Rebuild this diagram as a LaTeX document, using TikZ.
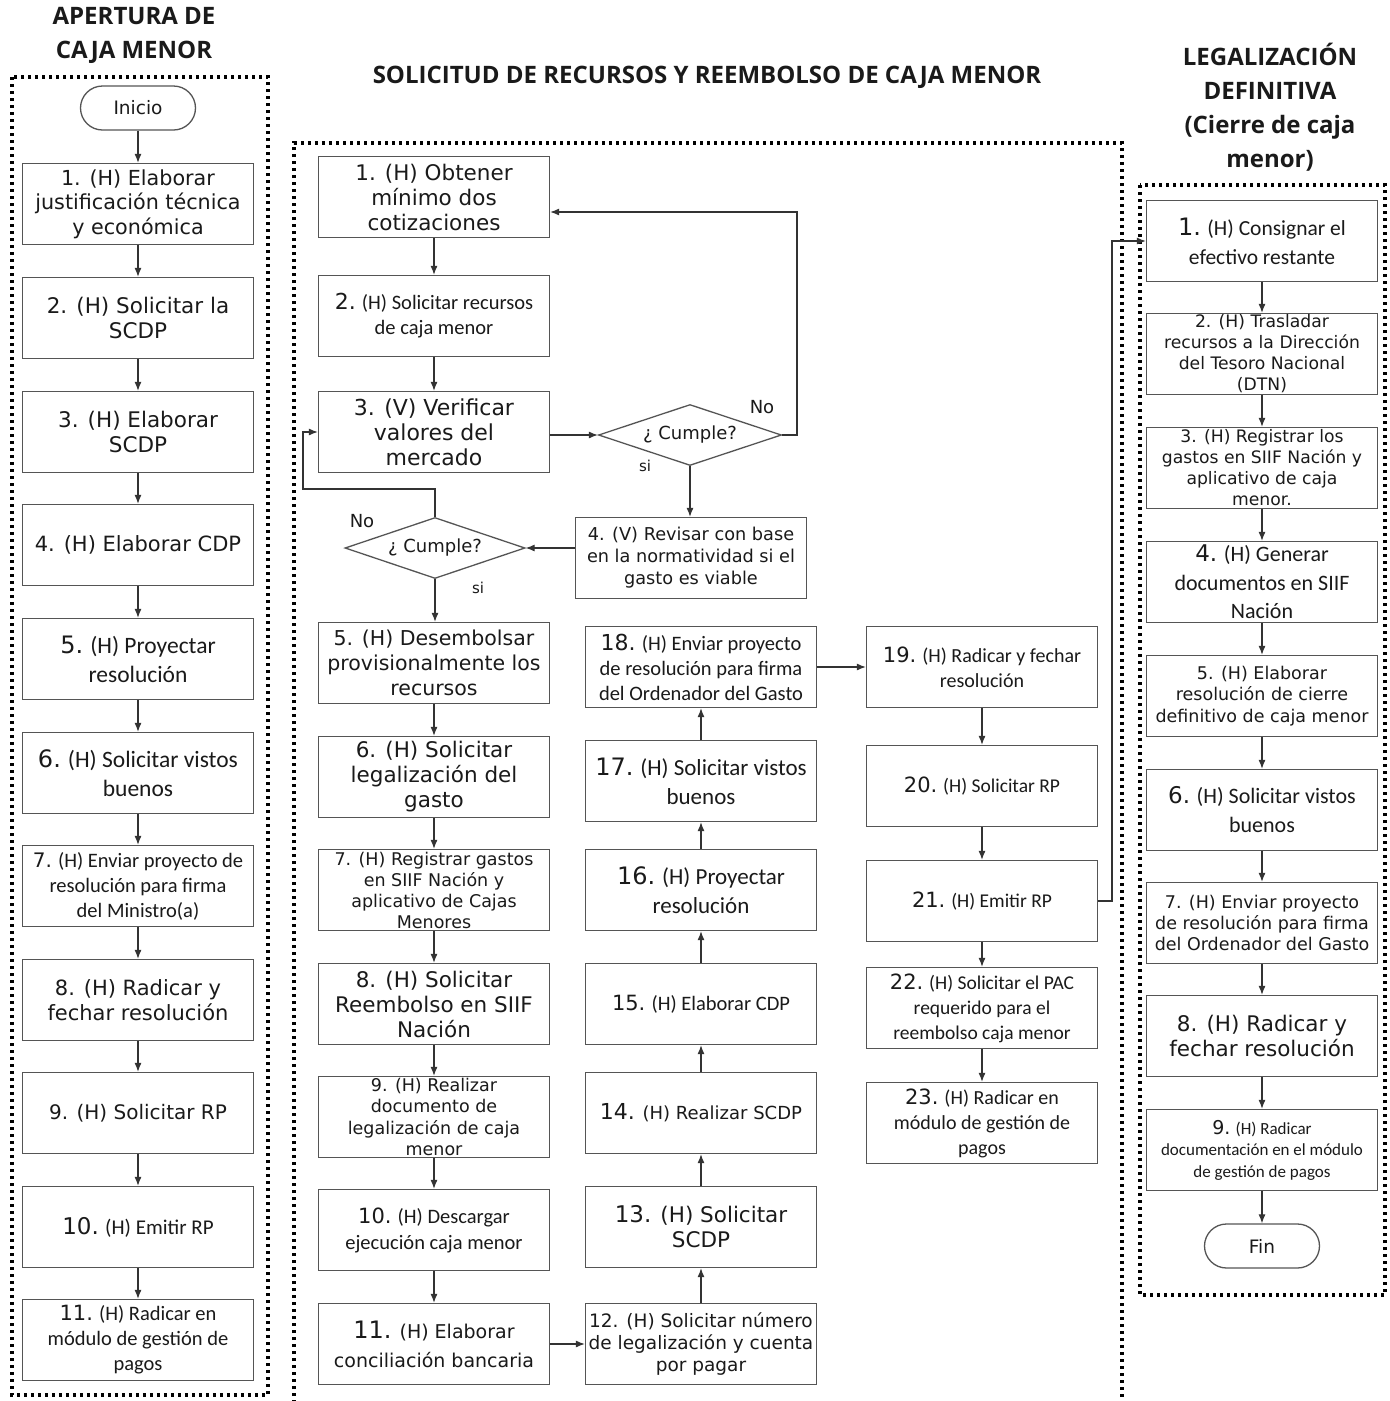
\documentclass[tikz,border=0pt]{standalone}
\usepackage{fontspec}
\setmainfont{DejaVu Sans}
\newfontfamily\dv{DejaVu Sans}
\newfontfamily\cf{Carlito}
\newfontfamily\tf{Open Sans}
\usetikzlibrary{arrows.meta,shapes.geometric}
\definecolor{bordc}{HTML}{555555}
\definecolor{linec}{HTML}{333333}
\definecolor{txtc}{HTML}{1A1A1A}
\newcommand\V[2]{\dv\fontsize{#1}{#2}\selectfont}
\newcommand\C[2]{\cf\fontsize{#1}{#2}\selectfont}
\newcommand\N[2]{{\dv\fontsize{#1}{#1}\selectfont #2}}
\tikzset{
 box/.style={draw=bordc, line width=1.3pt, minimum width=231, minimum height=81, inner sep=0},
 txt/.style={align=center, text=txtc, inner sep=0},
 pill/.style={draw=bordc, line width=1.3pt, rounded corners=22, minimum width=115, minimum height=44, font=\V{18.5}{22}, text=txtc},
 dec/.style={diamond, aspect=3, draw=bordc, line width=1.3pt, inner sep=0, minimum width=183, minimum height=61, font=\V{18}{22}, text=txtc},
 arr/.style={draw=linec, line width=1.1pt, -{Latex[length=9pt,width=7pt]}},
 frame/.style={draw=black, line width=3.2pt, dash pattern=on 3.2pt off 3.8pt},
 ttl/.style={font=\tf\bfseries\fontsize{24}{34}\selectfont, align=center, text=txtc},
 lbl/.style={text=txtc, inner sep=0}
}
\newcommand\bx[4]{\node[box] (#1) at (#2) {}; \node[txt,font=#3] (#1t) at (#1) {#4};}
\begin{document}
\begin{tikzpicture}[x=1pt,y=-1pt]
\useasboundingbox[fill=white] (0,0) rectangle (1390,1401);
% titles
\node[ttl] (t1) at (134,35) {APERTURA DE\\CAJA MENOR};
\node[ttl] (t2) at (707,77) {SOLICITUD DE RECURSOS Y REEMBOLSO DE CAJA MENOR};
\node[ttl] (t3) at (1270,107) {LEGALIZACIÓN\\DEFINITIVA\\(Cierre de caja\\menor)};
% frames
\draw[frame] (12,77) rectangle (268,1395);
\draw[frame] (294,1410) -- (294,143) -- (1122,143) -- (1122,1410);
\draw[frame] (1140,185) rectangle (1385,1295);
% left column
\node[pill] (ini) at (138,108) {Inicio};
\bx{L1}{138,204}{\V{20.7}{24.5}}{1. (H) Elaborar\\justificación técnica\\y económica}
\bx{L2}{138,318}{\V{21.5}{25}}{2. (H) Solicitar la\\SCDP}
\bx{L3}{138,432}{\V{21.5}{25}}{3. (H) Elaborar\\SCDP}
\bx{L4}{138,545}{\V{21}{25}}{4. (H) Elaborar CDP}
\bx{L5}{138,659}{\C{23.5}{29}}{\N{24}{5.} (H) Proyectar\\resolución}
\bx{L6}{138,773}{\C{23.5}{29}}{\N{24}{6.} (H) Solicitar vistos\\buenos}
\bx{L7}{138,886}{\C{20.5}{25}}{\N{20}{7.} (H) Enviar proyecto de\\resolución para firma\\del Ministro(a)}
\bx{L8}{138,1000}{\V{21}{25}}{8. (H) Radicar y\\fechar resolución}
\bx{L9}{138,1113}{\V{20}{24}}{9. (H) Solicitar RP}
\bx{L10}{138,1227}{\C{21}{25}}{\N{23}{10.} (H) Emitir RP}
\bx{L11}{138,1340}{\C{20.5}{25}}{\N{21}{11.} (H) Radicar en\\módulo de gestión de\\pagos}
\draw[arr] (ini) -- (L1);
\foreach \a/\b in {L1/L2,L2/L3,L3/L4,L4/L5,L5/L6,L6/L7,L7/L8,L8/L9,L9/L10,L10/L11}
  \draw[arr] (\a) -- (\b);
% middle column A
\bx{M1}{434,197}{\V{21.5}{25}}{1. (H) Obtener\\mínimo dos\\cotizaciones}
\bx{M2}{434,316}{\C{20.5}{25}}{\N{22}{2.} (H) Solicitar recursos\\de caja menor}
\bx{M3}{434,432}{\V{22}{25}}{3. (V) Verificar\\valores del\\mercado}
\node[dec] (D1) at (690,435) {¿ Cumple?};
\bx{M4}{691,558}{\V{17.7}{22}}{4. (V) Revisar con base\\en la normatividad si el\\gasto es viable}
\node[dec, minimum width=180] (D2) at (435,548) {¿ Cumple?};
\bx{M5}{434,663}{\V{20.5}{25}}{5. (H) Desembolsar\\provisionalmente los\\recursos}
\bx{M6}{434,777}{\V{21.5}{25}}{6. (H) Solicitar\\legalización del\\gasto}
\bx{M7}{434,890}{\V{17.5}{21}}{7. (H) Registrar gastos\\en SIIF Nación y\\aplicativo de Cajas\\Menores}
\bx{M8}{434,1004}{\V{21.5}{25}}{8. (H) Solicitar\\Reembolso en SIIF\\Nación}
\bx{M9}{434,1117}{\V{17.5}{21.5}}{9. (H) Realizar\\documento de\\legalización de caja\\menor}
\bx{M10}{434,1230}{\C{20.5}{26}}{\N{21}{10.} (H) Descargar\\ejecución caja menor}
\bx{M11}{434,1344}{\V{19}{29}}{\N{24}{11.} (H) Elaborar\\conciliación bancaria}
% middle column B
\bx{M12}{701,1344}{\V{18.5}{22}}{12. (H) Solicitar número\\de legalización y cuenta\\por pagar}
\bx{M13}{701,1227}{\V{21.5}{25}}{\N{23}{13.} (H) Solicitar\\SCDP}
\bx{M14}{701,1113}{\V{18}{22}}{\N{22}{14.} (H) Realizar SCDP}
\bx{M15}{701,1004}{\C{20.5}{24}}{\N{21}{15.} (H) Elaborar CDP}
\bx{M16}{701,890}{\C{23}{29}}{\N{24}{16.} (H) Proyectar\\resolución}
\bx{M17}{701,781}{\C{23}{29}}{\N{24}{17.} (H) Solicitar vistos\\buenos}
\bx{M18}{701,667}{\C{20.5}{25}}{\N{22}{18.} (H) Enviar proyecto\\de resolución para firma\\del Ordenador del Gasto}
% middle column C
\bx{M19}{982,667}{\C{20}{25}}{\N{21}{19.} (H) Radicar y fechar\\resolución}
\bx{M20}{982,786}{\C{19.5}{24}}{\N{21}{20.} (H) Solicitar RP}
\bx{M21}{982,901}{\C{19.5}{24}}{\N{21}{21.} (H) Emitir RP}
\bx{M22}{982,1008}{\C{19.5}{25}}{\N{21}{22.} (H) Solicitar el PAC\\requerido para el\\reembolso caja menor}
\bx{M23}{982,1123}{\C{20}{25}}{\N{21}{23.} (H) Radicar en\\módulo de gestión de\\pagos}
% middle connectors
\draw[arr] (M1) -- (M2);
\draw[arr] (M2) -- (M3);
\draw[arr] (M3.east |- D1) -- (D1.west);
\draw[arr] (D1.east) -- (797,435) |- ([yshift=-15pt]M1.east);
\draw[arr] (D1.south) -- (D1.south |- M4.north);
\draw[arr] (M4.west |- D2) -- (D2.east);
\draw[arr] (D2.north) |- (303,489) |- (M3.west);
\draw[arr] (D2.south) -- (D2.south |- M5.north);
\foreach \a/\b in {M5/M6,M6/M7,M7/M8,M8/M9,M9/M10,M10/M11,M12/M13,M13/M14,M14/M15,M15/M16,M16/M17,M17/M18,M19/M20,M20/M21,M21/M22,M22/M23}
  \draw[arr] (\a) -- (\b);
\draw[arr] (M11) -- (M12);
\draw[arr] (M18) -- (M19);
\node[lbl, font=\V{18}{20}] (no1) at (762,407) {No};
\node[lbl, font=\V{15}{18}] (si1) at (645,466) {si};
\node[lbl, font=\V{18}{20}] (no2) at (362,521) {No};
\node[lbl, font=\V{15}{18}] (si2) at (478,588) {si};
% right column
\bx{R1}{1262,241}{\C{21.5}{29}}{\N{24}{1.} (H) Consignar el\\efectivo restante}
\bx{R2}{1262,354}{\V{17.2}{21}}{2. (H) Trasladar\\recursos a la Dirección\\del Tesoro Nacional\\(DTN)}
\bx{R3}{1262,468}{\V{17.2}{21}}{3. (H) Registrar los\\gastos en SIIF Nación y\\aplicativo de caja\\menor.}
\bx{R4}{1262,582}{\C{22}{28.5}}{\N{23}{4.} (H) Generar\\documentos en SIIF\\Nación}
\bx{R5}{1262,696}{\V{17.5}{21.5}}{5. (H) Elaborar\\resolución de cierre\\definitivo de caja menor}
\bx{R6}{1262,810}{\C{22}{29}}{\N{23}{6.} (H) Solicitar vistos\\buenos}
\bx{R7}{1262,923}{\V{17.5}{21}}{7. (H) Enviar proyecto\\de resolución para firma\\del Ordenador del Gasto}
\bx{R8}{1262,1036}{\V{21.5}{25}}{8. (H) Radicar y\\fechar resolución}
\bx{R9}{1262,1150}{\C{17}{21.5}}{\N{19}{9.} (H) Radicar\\documentación en el módulo\\de gestión de pagos}
\node[pill] (fin) at (1262,1246) {Fin};
\foreach \a/\b in {R1/R2,R2/R3,R3/R4,R4/R5,R5/R6,R6/R7,R7/R8,R8/R9,R9/fin}
  \draw[arr] (\a) -- (\b);
\draw[arr] (M21.east) -- (1112,901) |- (R1.west);
\end{tikzpicture}
\end{document}
